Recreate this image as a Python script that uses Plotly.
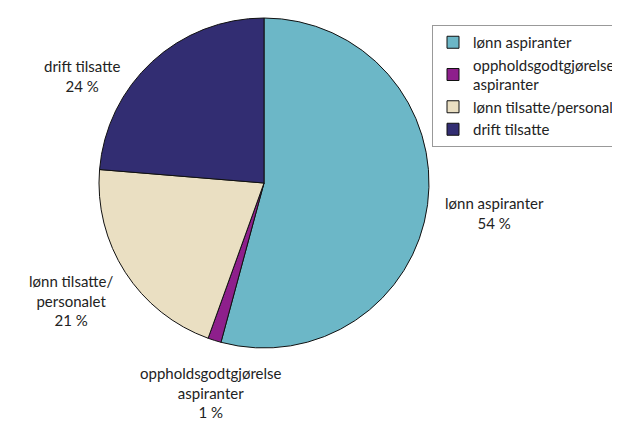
import plotly.graph_objects as go

categories = ["lønn aspiranter", "oppholdsgodtgjørelse<br>aspiranter", "lønn tilsatte/personalet", "drift tilsatte"]
values = [54.2, 1.3, 20.8, 23.7]
pct_labels = ["54 %", "1 %", "21 %", "24 %"]
slice_labels = ["lønn aspiranter", "oppholdsgodtgjørelse<br>aspiranter", "lønn tilsatte/<br>personalet", "drift tilsatte"]
colors = ["#6CB7C7", "#8E1F8C", "#EADFC2", "#322D72"]

OFF = 8  # page body margin
W, H = 620 - OFF, 421 - OFF
cx, cy, r = 264 - OFF, 183 - OFF, 165
FONT = "Lato, Noto Sans, sans-serif"

fig = go.Figure(go.Pie(
    labels=categories,
    values=values,
    sort=False,
    direction="clockwise",
    rotation=0,
    marker=dict(colors=colors, line=dict(color="#111111", width=1)),
    textinfo="none",
    hoverinfo="label+percent",
    domain=dict(x=[(cx - r) / W, (cx + r) / W], y=[(H - cy - r) / H, (H - cy + r) / H]),
))

label_pos = [(495, 213), (211, 392), (71, 300), (82, 76)]
for txt, pct, (px, py) in zip(slice_labels, pct_labels, label_pos):
    fig.add_annotation(
        x=(px - OFF) / W, y=1 - (py - OFF) / H, xref="paper", yref="paper",
        text=f"{txt}<br>{pct}", showarrow=False,
        font=dict(family=FONT, size=15, color="#222222"),
        align="center", xanchor="center", yanchor="middle",
    )

fig.update_layout(
    width=W, height=H,
    margin=dict(l=0, r=0, t=0, b=0, autoexpand=False),
    paper_bgcolor="white", plot_bgcolor="white",
    showlegend=True,
    legend=dict(
        x=(432 - OFF) / W, y=1 - (25 - OFF) / H, xanchor="left", yanchor="top",
        bordercolor="#999999", borderwidth=1, bgcolor="white",
        font=dict(family=FONT, size=15, color="#222222"),
        itemwidth=30, tracegroupgap=0,
    ),
)

fig.write_html("out.html")
